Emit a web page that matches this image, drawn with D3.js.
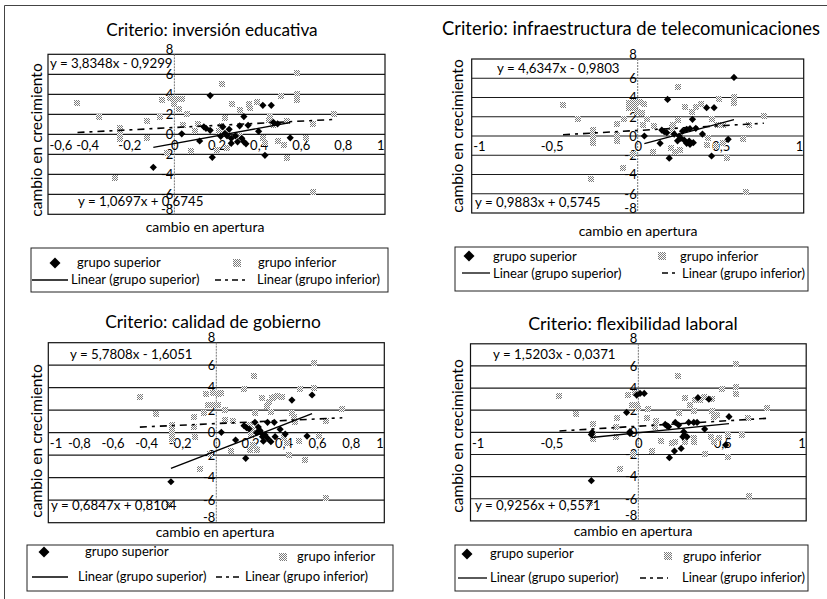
<!DOCTYPE html>
<html>
<head>
<meta charset="utf-8">
<script src="https://cdn.jsdelivr.net/npm/d3@7"></script>
<style>
  html, body { margin: 0; padding: 0; background: #fff; }
  svg { display: block; }
  text { font-family: Lato, "Open Sans", sans-serif; fill: #000; }
</style>
</head>
<body>
<svg id="fig" width="827" height="599"></svg>
<script>
// ---- Datos ----
const titulos = [
  "Criterio: inversión educativa",
  "Criterio: infraestructura de telecomunicaciones",
  "Criterio: calidad de gobierno",
  "Criterio: flexibilidad laboral"
];
const etiquetaX = "cambio en apertura";
const etiquetaY = "cambio en crecimiento";
const serieSup = "grupo superior";
const serieInf = "grupo inferior";
const tendSup = "Linear (grupo superior)";
const tendInf = "Linear (grupo inferior)";

const dominiosX = [[-0.6, 1], [-1, 1], [-1, 1], [-1, 1]];
const ticksX = [
  [-0.6, -0.4, -0.2, 0, 0.2, 0.4, 0.6, 0.8, 1],
  [-1, -0.5, 0, 0.5, 1],
  [-1, -0.8, -0.6, -0.4, -0.2, 0, 0.2, 0.4, 0.6, 0.8, 1],
  [-1, -0.5, 0, 0.5, 1]
];
const ticksY = [-8, -6, -4, -2, 0, 2, 4, 6, 8];

// pendiente, ordenada de cada recta de tendencia
const ecuacionSup = [[3.8348, -0.9299], [4.6347, -0.9803], [5.7808, -1.6051], [1.5203, -0.0371]];
const ecuacionInf = [[1.0697, 0.6745], [0.9883, 0.5745], [0.6847, 0.8104], [0.9256, 0.5571]];

// [cambio en apertura, cambio en crecimiento]
const supEducativa = [
  [0.17,3.87],[0.42,2.9],[0.46,2.9],[0.33,1.77],[0.47,1.2],[0.49,1.05],[0.14,0.75],[0.15,0.6],
  [0.17,0.4],[0.23,0.75],[0.31,0.85],[0.35,0.9],[0.40,0.3],[0.035,0.05],[0.12,-0.67],[0.24,0.1],
  [0.25,-0.15],[0.27,-0.4],[0.29,-0.15],[0.30,-0.75],[0.33,-0.75],[0.27,-0.9],[0.55,-0.35],
  [0.18,-2.3],[0.43,-2.1],[-0.10,-3.3],[0.22,-0.2],[0.26,0.5],[0.32,-0.4],[0.34,-0.95]
];
const infEducativa = [
  [-0.46,3.17],[-0.36,1.77],[-0.26,0.67],[-0.26,0.25],[-0.26,-0.1],[-0.26,-0.45],[-0.28,-4.35],
  [-0.13,1.33],[-0.13,-0.35],[-0.07,1.77],[-0.06,3.43],[-0.02,3.6],[0.01,3.5],[0.035,3.55],
  [0.0,3.0],[0.02,2.5],[0.04,0.95],[0.06,2.03],[0.11,1.03],[0.08,-1.67],[0.225,5.0],[0.24,1.67],
  [0.22,0.8],[0.21,0.3],[0.25,-1.4],[0.275,3.0],[0.31,2.45],[0.355,3.0],[0.36,2.6],[0.39,3.27],
  [0.455,1.77],[0.42,-0.4],[0.43,-0.9],[0.49,-0.65],[0.52,-1.05],[0.505,3.87],[0.535,-2.4],
  [0.58,6.15],[0.58,4.0],[0.58,3.45],[0.535,1.35],[0.625,-0.35],[0.66,1.05],[0.66,-5.75],
  [0.76,2.03],[-0.035,-1.9],[0.2,-1.6],[0.31,-0.2],[0.45,1.4],[0.47,0.9],[0.1,0.3]
];
const supTelecom = [
  [0.58,6.09],[0.18,3.8],[0.415,2.94],[0.46,2.94],[0.33,1.73],[0.04,0.0],[0.135,-0.76],[0.145,0.62],
  [0.16,0.45],[0.175,0.35],[0.295,0.69],[0.315,0.76],[0.35,0.8],[0.39,0.2],[0.25,0.0],[0.26,-0.25],
  [0.28,-0.42],[0.295,-0.76],[0.31,-0.52],[0.315,-0.86],[0.335,-0.69],[0.24,-0.5],[0.545,-0.35],
  [0.19,-2.3],[0.445,-2.08],[0.22,0.2],[0.27,0.5]
];
const infTelecom = [
  [-0.45,3.2],[-0.36,1.73],[-0.27,0.62],[-0.27,0.1],[-0.27,-0.35],[-0.27,-0.76],[-0.28,-4.5],
  [-0.125,1.25],[-0.125,0.1],[-0.125,-0.48],[-0.085,1.73],[-0.055,3.4],[-0.025,3.5],[0.015,3.5],
  [0.04,3.35],[-0.05,2.9],[-0.025,2.95],[-0.005,2.5],[0.025,2.35],[0.055,1.73],[0.03,1.1],
  [0.09,-1.63],[-0.09,-3.36],[0.24,5.12],[0.245,1.66],[0.215,1.14],[0.205,0.8],[0.21,0.3],
  [0.2,-1.28],[0.225,-1.63],[0.255,-1.45],[0.285,3.05],[0.325,2.53],[0.35,2.98],[0.38,3.32],
  [0.45,1.73],[0.425,-0.24],[0.475,1.14],[0.49,3.8],[0.515,-0.76],[0.535,-2.3],[0.58,4.08],
  [0.58,3.46],[0.515,1.14],[0.635,-0.35],[0.65,-5.78],[0.67,1.14],[0.76,2.08],[0.42,-0.9],
  [0.47,-1.0],[0.1,1.0],[-0.03,-1.9]
];
const supGobierno = [
  [0.45,2.9],[0.57,3.35],[0.23,0.92],[0.165,0.62],[0.18,0.45],[0.195,0.33],[0.305,0.92],[0.345,0.92],
  [0.38,0.3],[0.03,0.03],[0.115,-0.65],[0.25,0.5],[0.26,0.2],[0.27,-0.05],[0.275,-0.35],[0.29,-0.2],
  [0.305,-0.5],[0.325,-0.8],[0.35,-0.35],[0.41,-0.12],[0.54,-0.3],[0.175,-2.28],[-0.27,-4.36],
  [0.28,-0.75],[0.24,0.0]
];
const infGobierno = [
  [-0.455,3.2],[-0.36,1.66],[-0.265,0.68],[-0.265,0.24],[-0.265,-0.2],[-0.265,-0.56],[-0.10,-3.26],
  [-0.13,1.42],[-0.13,0.53],[-0.125,-0.36],[-0.075,1.78],[-0.06,3.4],[-0.02,3.5],[0.01,3.4],
  [0.03,3.5],[-0.05,2.5],[-0.02,2.45],[0.01,2.45],[0.05,2.0],[0.05,1.13],[-0.035,-1.9],[0.085,-1.6],
  [0.10,1.04],[0.165,3.85],[0.225,5.07],[0.23,1.72],[0.2,0.68],[0.21,0.25],[0.205,-0.2],[0.22,-1.1],
  [0.2,-1.5],[0.24,-1.5],[0.27,3.05],[0.3,2.37],[0.315,2.76],[0.33,3.05],[0.345,3.2],[0.37,3.3],
  [0.39,3.15],[0.325,1.8],[0.45,1.78],[0.46,1.42],[0.42,-0.9],[0.435,-1.98],[0.49,-0.74],
  [0.53,-2.43],[0.5,3.88],[0.47,0.92],[0.58,6.16],[0.58,4.0],[0.61,-0.3],[0.65,1.07],[0.65,-5.78],
  [0.75,2.1],[-0.28,-6.4],[0.4,-0.45]
];
const supLaboral = [
  [-0.01,3.37],[0.01,3.52],[0.035,3.52],[-0.07,1.8],[-0.275,0.0],[-0.05,0.06],[-0.05,-0.1],
  [-0.28,-4.37],[0.16,0.72],[0.17,0.6],[0.18,0.51],[0.22,0.9],[0.24,0.66],[0.30,0.9],[0.33,0.9],
  [0.35,0.9],[0.355,3.13],[0.42,3.0],[0.395,0.3],[0.54,1.42],[0.52,-1.14],[0.27,0.06],[0.275,-0.24],
  [0.29,-0.4],[0.265,-0.4],[0.215,-1.69],[0.255,-1.45],[0.185,-2.29],[-0.28,-0.2]
];
const infLaboral = [
  [-0.47,3.28],[-0.37,1.66],[-0.27,0.72],[-0.27,-0.24],[-0.27,-0.63],[-0.13,1.33],[-0.135,0.5],
  [-0.135,-0.4],[-0.11,-3.34],[-0.06,3.4],[-0.02,3.6],[-0.04,2.5],[-0.01,2.5],[0.0,2.2],[0.05,1.27],
  [0.056,2.1],[-0.03,-2.0],[0.08,-1.69],[0.105,1.02],[0.135,-0.78],[0.235,5.09],[0.24,1.72],
  [0.2,-1.0],[0.22,-0.9],[0.275,3.13],[0.31,2.45],[0.33,1.9],[0.34,2.9],[0.37,2.95],[0.39,3.2],
  [0.44,3.0],[0.44,1.9],[0.45,1.42],[0.47,1.55],[0.43,-0.4],[0.45,-0.85],[0.48,-0.55],[0.5,3.92],
  [0.535,-0.24],[0.535,-2.2],[0.58,6.14],[0.58,4.1],[0.58,3.5],[0.62,-0.24],[0.655,1.27],
  [0.66,-5.72],[0.765,2.17],[-0.29,-6.4],[0.28,-0.85],[0.33,-0.5],[0.33,-0.85],[0.4,-1.95],[0.1,0.5]
];

const superiores = [supEducativa, supTelecom, supGobierno, supLaboral];
const inferiores = [infEducativa, infTelecom, infGobierno, infLaboral];

// ---- Disposición de cada panel ----
const disposicion = [
  { caja: [48, 385, 54.3, 214.3], titulo: [212, 36, 17.2], ejeY: [37, 140], ejeX: [205, 232],
    ecSup: [50, 67.7], ecInf: [78, 205.7],
    ley: { x: 31, y: 248, w: 357, h: 44, rombo: [55, 263], t1: [77, 267], marca: [237, 263], t2: [258, 267],
           linea: [32, 68, 280], t3: [71, 284], guion: [215, 248, 280], t4: [257, 284] } },
  { caja: [471.7, 803.7, 59, 213], titulo: [631, 35, 18.4], ejeY: [458, 136], ejeX: [638, 236],
    ecSup: [497, 73], ecInf: [475, 206.7],
    ley: { x: 455, y: 247, w: 353, h: 44, rombo: [469, 256], t1: [493, 261], marca: [662, 256], t2: [680, 261],
           linea: [462, 490, 273], t3: [493, 278], guion: [662, 678, 273], t4: [682, 278] } },
  { caja: [48.3, 384.3, 342.7, 522.7], titulo: [213, 328, 17.4], ejeY: [37, 441], ejeX: [215, 537],
    ecSup: [70, 359], ecInf: [51, 510],
    ley: { x: 27, y: 545, w: 366, h: 46, rombo: [44, 552], t1: [85, 556], marca: [283, 557], t2: [297, 561],
           linea: [32, 68, 577], t3: [78, 581], guion: [216, 240, 577], t4: [245, 581] } },
  { caja: [470.5, 806.2, 343.8, 520.9], titulo: [633, 330, 17.8], ejeY: [458, 436], ejeX: [633, 536],
    ecSup: [493, 359], ecInf: [475, 510],
    ley: { x: 455, y: 545, w: 353, h: 46, rombo: [467, 554], t1: [490, 558], marca: [668, 556], t2: [683, 561],
           linea: [458, 487, 578], t3: [490, 582], guion: [640, 668, 578], t4: [682, 582] } }
];

const es = d3.formatLocale({ decimal: ",", thousands: ".", grouping: [3], currency: ["", " €"], minus: "-" });
const fmtTick = es.format("~g");
const fmtCoef = es.format(".4f");
const ecuacionTexto = ([m, b]) => `y = ${fmtCoef(m)}x ${b < 0 ? "-" : "+"} ${fmtCoef(Math.abs(b))}`;

const svg = d3.select("#fig");

// trama punteada de los marcadores del grupo inferior
const defs = svg.append("defs");
const pat = defs.append("pattern").attr("id", "trama")
  .attr("width", 2).attr("height", 2).attr("patternUnits", "userSpaceOnUse");
pat.append("rect").attr("width", 2).attr("height", 2).attr("fill", "#fff");
pat.append("rect").attr("width", 1).attr("height", 1).attr("fill", "#7a7a7a");
pat.append("rect").attr("x", 1).attr("y", 1).attr("width", 1).attr("height", 1).attr("fill", "#7a7a7a");

svg.append("rect").attr("width", 827).attr("height", 599).attr("fill", "#fff");

// marco exterior
svg.append("path").attr("d", "M4.5,599V5.5H827").attr("fill", "none").attr("stroke", "#444").attr("stroke-width", 1);

const rombo = d3.symbol().type(d3.symbolSquare).size(26);
const romboLey = d3.symbol().type(d3.symbolSquare).size(60);
const DASH = "7,5,3,5";

disposicion.forEach((L, i) => {
  const g = svg.append("g");
  const [x0, x1, y0, y1] = L.caja;
  const x = d3.scaleLinear().domain(dominiosX[i]).range([x0, x1]);
  const y = d3.scaleLinear().domain([-8, 8]).range([y1, y0]);

  // título y rótulos de ejes
  g.append("text").attr("x", L.titulo[0]).attr("y", L.titulo[1]).attr("text-anchor", "middle")
    .attr("font-size", L.titulo[2]).text(titulos[i]);
  g.append("text").attr("transform", `translate(${L.ejeY[0]},${L.ejeY[1]}) rotate(-90)`)
    .attr("text-anchor", "middle").attr("dy", "0.35em").attr("font-size", 15.5).text(etiquetaY);
  g.append("text").attr("x", L.ejeX[0]).attr("y", L.ejeX[1]).attr("text-anchor", "middle")
    .attr("font-size", 14).text(etiquetaX);

  // área de trazado
  g.append("rect").attr("x", x0).attr("y", y0).attr("width", x1 - x0).attr("height", y1 - y0)
    .attr("fill", "#fff").attr("stroke", "#111").attr("stroke-width", 1.2);

  // líneas horizontales de división
  g.append("g").selectAll("line").data(ticksY.filter(v => v > -8 && v < 8)).join("line")
    .attr("x1", x0).attr("x2", x1).attr("y1", d => y(d)).attr("y2", d => y(d))
    .attr("stroke", "#1a1a1a").attr("stroke-width", 1.2);

  // eje vertical en x = 0
  g.append("line").attr("x1", x(0)).attr("x2", x(0)).attr("y1", y0).attr("y2", y1)
    .attr("stroke", "#777").attr("stroke-width", 1).attr("stroke-dasharray", "2,1");

  // etiquetas del eje Y junto a x = 0
  const ejeVert = d3.axisLeft(y).tickValues(ticksY).tickSize(0).tickPadding(1).tickFormat(fmtTick);
  const gy = g.append("g").attr("transform", `translate(${x(0)},0)`).call(ejeVert);
  gy.select(".domain").remove();
  gy.selectAll("text").attr("font-size", 13).attr("font-family", "Lato, 'Open Sans', sans-serif")
    .attr("fill", "#000").attr("dy", d => (d === 8 || d === -8) ? "-1" : "0.33em");

  // etiquetas del eje X bajo y = 0
  const ejeHor = d3.axisBottom(x).tickValues(ticksX[i]).tickSize(0).tickPadding(5).tickFormat(fmtTick);
  const gx = g.append("g").attr("transform", `translate(0,${y(0)})`).call(ejeHor);
  gx.select(".domain").remove();
  const tx = ticksX[i];
  gx.selectAll("text").attr("font-size", 13).attr("font-family", "Lato, 'Open Sans', sans-serif")
    .attr("fill", "#000").attr("dy", "0.8em")
    .attr("text-anchor", d => d === tx[0] ? "start" : d === tx[tx.length - 1] ? "end" : "middle")
    .attr("dx", d => d === tx[0] || d === tx[tx.length - 1] ? 0 : d < 0 ? -3 : 0)
    .attr("x", d => d === tx[0] ? 1 : d === tx[tx.length - 1] ? -1 : 0);

  // puntos del grupo inferior
  g.append("g").selectAll("rect").data(inferiores[i]).join("rect")
    .attr("x", d => Math.round(x(d[0])) - 3).attr("y", d => Math.round(y(d[1])) - 3)
    .attr("width", 6).attr("height", 6).attr("fill", "url(#trama)");

  // puntos del grupo superior
  g.append("g").selectAll("path").data(superiores[i]).join("path")
    .attr("transform", d => `translate(${x(d[0])},${y(d[1])}) rotate(45)`)
    .attr("d", rombo).attr("fill", "#000");

  // rectas de tendencia, sobre el rango de cada grupo
  const recta = (coef, datos) => {
    const ext = d3.extent(datos, d => d[0]);
    return ext.map(v => [x(v), y(coef[0] * v + coef[1])]);
  };
  g.append("path").attr("d", d3.line()(recta(ecuacionSup[i], superiores[i])))
    .attr("stroke", "#000").attr("stroke-width", 1.4).attr("fill", "none");
  g.append("path").attr("d", d3.line()(recta(ecuacionInf[i], inferiores[i])))
    .attr("stroke", "#000").attr("stroke-width", 1.6).attr("fill", "none").attr("stroke-dasharray", DASH);

  // ecuaciones
  g.append("text").attr("x", L.ecSup[0]).attr("y", L.ecSup[1]).attr("font-size", 13.3).text(ecuacionTexto(ecuacionSup[i]));
  g.append("text").attr("x", L.ecInf[0]).attr("y", L.ecInf[1]).attr("font-size", 13.3).text(ecuacionTexto(ecuacionInf[i]));

  // leyenda
  const ly = L.ley;
  const gl = g.append("g");
  gl.append("rect").attr("x", ly.x).attr("y", ly.y).attr("width", ly.w).attr("height", ly.h)
    .attr("fill", "#fff").attr("stroke", "#222").attr("stroke-width", 1);
  gl.append("path").attr("transform", `translate(${ly.rombo[0]},${ly.rombo[1]}) rotate(45)`).attr("d", romboLey).attr("fill", "#000");
  gl.append("rect").attr("x", ly.marca[0] - 4).attr("y", ly.marca[1] - 4).attr("width", 8).attr("height", 8).attr("fill", "url(#trama)");
  gl.append("line").attr("x1", ly.linea[0]).attr("x2", ly.linea[1]).attr("y1", ly.linea[2]).attr("y2", ly.linea[2])
    .attr("stroke", "#000").attr("stroke-width", 1.3);
  gl.append("line").attr("x1", ly.guion[0]).attr("x2", ly.guion[1]).attr("y1", ly.guion[2]).attr("y2", ly.guion[2])
    .attr("stroke", "#000").attr("stroke-width", 1.5).attr("stroke-dasharray", "6,4,3,4");
  [[ly.t1, serieSup], [ly.t2, serieInf], [ly.t3, tendSup], [ly.t4, tendInf]].forEach(([p, t]) => {
    gl.append("text").attr("x", p[0]).attr("y", p[1]).attr("font-size", 13).text(t);
  });
});
</script>
</body>
</html>
